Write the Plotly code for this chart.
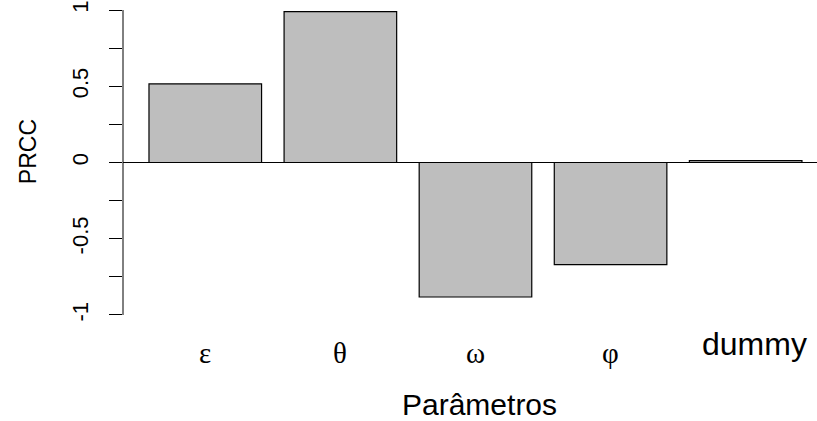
import plotly.graph_objects as go

# ---- data ----
categories = ["ε", "θ", "ω", "φ", "dummy"]
prcc_values = [0.515, 0.990, -0.882, -0.670, 0.012]
y_tick_vals = [-1, -0.75, -0.5, -0.25, 0, 0.25, 0.5, 0.75, 1]
y_tick_text = ["-1", "", "-0.5", "", "0", "", "0.5", "", "1"]
x_title = "Parâmetros"
y_title = "PRCC"

greek = {"ε", "θ", "ω", "φ"}

fig = go.Figure()
fig.add_trace(go.Bar(
    x=categories,
    y=prcc_values,
    marker=dict(color="#BEBEBE", line=dict(color="black", width=1.2)),
    hoverinfo="x+y",
))

fig.update_layout(
    width=817, height=421,
    margin=dict(l=123, r=0, t=0, b=91, pad=0),
    paper_bgcolor="white", plot_bgcolor="white",
    bargap=1 - 1 / 1.2,
    showlegend=False,
    font=dict(family="Liberation Sans, Arial, sans-serif", color="black"),
)
fig.update_xaxes(
    type="category",
    range=[-0.609, 4.528],
    showticklabels=False, ticks="", showline=False, showgrid=False, zeroline=False,
)
fig.update_yaxes(
    range=[-1.0984, 1.0656],
    tickvals=y_tick_vals, ticktext=y_tick_text,
    ticks="outside", ticklen=13, tickwidth=1, tickcolor="black",
    tickangle=-90, tickfont=dict(size=22, family="Liberation Sans, Arial"),
    ticklabelstandoff=12,
    showgrid=False, showline=False,
    zeroline=True, zerolinecolor="black", zerolinewidth=1,
)

# y axis line spanning only the tick range
fig.add_shape(type="line", xref="paper", yref="y", x0=0, x1=0,
              y0=min(y_tick_vals), y1=max(y_tick_vals),
              line=dict(color="black", width=1))

# category labels under bars
for cat in categories:
    if cat in greek:
        fig.add_annotation(x=cat, xref="x", y=0, yref="paper", yanchor="middle",
                           yshift=-23, text=cat, showarrow=False,
                           font=dict(size=29, family="Liberation Serif, Times New Roman, serif"))
    else:
        fig.add_annotation(x=cat, xref="x", y=0, yref="paper", yanchor="middle",
                           yshift=-14, xshift=9, text=cat, showarrow=False,
                           font=dict(size=32, family="Liberation Sans, Arial"))

fig.add_annotation(x=0.514, xref="paper", y=0, yref="paper", yshift=-74,
                   yanchor="middle", text=x_title, showarrow=False,
                   font=dict(size=30, family="Liberation Sans, Arial"))
fig.add_annotation(x=0, xref="paper", xshift=-95, y=0.539, yref="paper",
                   xanchor="center", yanchor="middle", textangle=-90,
                   text=y_title, showarrow=False,
                   font=dict(size=23, family="Liberation Sans, Arial"))

fig.write_html("out.html", config={"displayModeBar": False},
               post_script="document.body.style.margin='0';")
